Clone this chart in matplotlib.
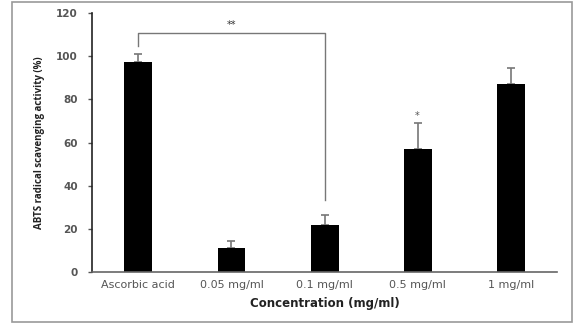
import matplotlib
matplotlib.use("Agg")
import matplotlib.pyplot as plt
from matplotlib.patches import Rectangle

categories = ["Ascorbic acid", "0.05 mg/ml", "0.1 mg/ml", "0.5 mg/ml", "1 mg/ml"]
values = [97.3, 11.0, 21.8, 56.9, 87.0]
errors = [3.9, 3.5, 4.6, 12.0, 7.5]
yticks = [0, 20, 40, 60, 80, 100, 120]

plt.rcParams['font.family'] = ['DejaVu Sans']

fig = plt.figure(figsize=(5.78, 3.24), dpi=100)
ax = fig.add_axes([0.159, 0.160, 0.805, 0.800])

x = list(range(len(categories)))
ax.bar(x, values, width=0.3, color="black", zorder=2)
ax.errorbar(x, values, yerr=[[0]*len(errors), errors], fmt="none",
            ecolor="#777777", elinewidth=1.2, capsize=3, capthick=1.2, zorder=1)

ax.set_xlim(-0.5, len(categories) - 0.5)
ax.set_ylim(0, 120)
ax.set_yticks(yticks)
ax.set_yticklabels([str(t) for t in yticks], fontsize=7.5, fontweight="bold", color="#555555")
ax.set_xticks(x)
ax.set_xticklabels(categories, fontsize=8, color="#555555")
ax.tick_params(axis="x", length=0, pad=6)
ax.tick_params(axis="y", length=3, width=1, color="#555555", pad=7)

for s in ["top", "right"]:
    ax.spines[s].set_visible(False)
ax.spines["left"].set_color("#222222")
ax.spines["bottom"].set_color("#666666")
ax.spines["left"].set_linewidth(1.2)
ax.spines["bottom"].set_linewidth(1.2)

ax.set_xlabel("Concentration (mg/ml)", fontsize=8.5, fontweight="bold", labelpad=5, color="#222222")
ax.set_ylabel("ABTS radical scavenging activity (%)", fontsize=7, fontweight="bold",
              labelpad=8, color="#222222", family=["Open Sans", "DejaVu Sans"])

# significance bracket
bx0, bx1, by = 0, 2, 110.6
ax.plot([bx0, bx0, bx1, bx1], [104.5, by, by, 33.4], color="#777777", lw=1, zorder=3)
ax.text((bx0 + bx1) / 2, by + 1.5, "**", ha="center", va="bottom", fontsize=7, color="#333333")
ax.text(3, values[3] + errors[3] + 1.0, "*", ha="center", va="bottom", fontsize=7, color="#555555")

fig.patches.append(Rectangle((12/578, 2/324), 560/578, 320/324, transform=fig.transFigure,
                             fill=False, edgecolor="#999999", lw=1.2))

fig.savefig("out.png", dpi=100)
